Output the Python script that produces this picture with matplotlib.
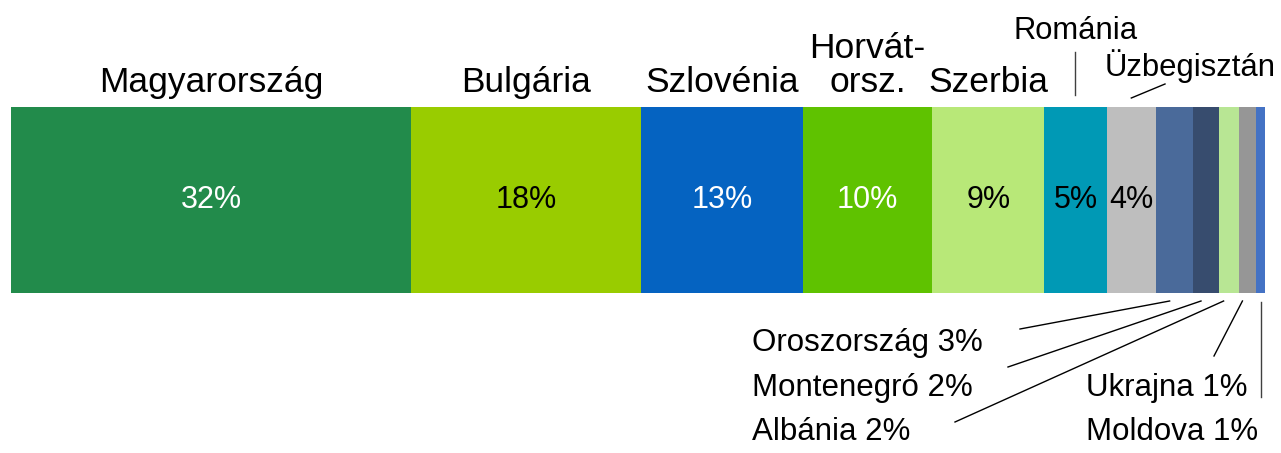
import matplotlib
matplotlib.use('Agg')
from matplotlib import pyplot as plt
import numpy as np

countries = ['Magyarország', 'Bulgária', 'Szlovénia', 'Horvátország', 'Szerbia', 'Románia',
             'Üzbegisztán', 'Oroszország', 'Montenegró', 'Albánia', 'Ukrajna', 'Moldova']
shares = [31.9, 18.3, 12.9, 10.3, 8.9, 5.0, 3.9, 3.0, 2.0, 1.6, 1.4, 0.7]
pct_labels = ['32%', '18%', '13%', '10%', '9%', '5%', '4%', '3%', '2%', '2%', '1%', '1%']
top_names = ['Magyarország', 'Bulgária', 'Szlovénia', 'Horvát-\norsz.', 'Szerbia', 'Románia', 'Üzbegisztán']
colors = ['#228B4B', '#99CC00', '#0563C1', '#5FC200', '#B8E878', '#0099B5',
          '#BEBEBE', '#4A6A9A', '#374C6E', '#B8E694', '#969696', '#4472C4']
inside_color = ['white', 'black', 'white', 'white', 'black', 'black', 'black']

plt.rcParams['font.family'] = ['Liberation Sans', 'DejaVu Sans']

W, H = 1281, 453
fig = plt.figure(figsize=(W / 100, H / 100), dpi=100)
ax = fig.add_axes([11 / W, 0, 1254 / W, 1])
total = sum(shares)
ax.set_xlim(0, total)
ax.set_ylim(H, 0)
ax.axis('off')

def px(x):
    # pixel column -> data x
    return (x - 11) / 1254 * total

starts = np.concatenate([[0], np.cumsum(shares)[:-1]])
centers = starts + np.array(shares) / 2
ax.barh(200, shares, left=starts, height=186, color=colors, edgecolor='none')

# percentages inside the bar
for i in range(7):
    ax.text(centers[i], 200, pct_labels[i], ha='center', va='center',
            fontsize=22, color=inside_color[i])

# names above the bar
name_size = 25.5
for i in range(5):
    ax.text(centers[i], 92, top_names[i], ha='center', va='baseline',
            fontsize=name_size, linespacing=1.05)
ax.text(centers[5], 39, top_names[5], ha='center', va='baseline', fontsize=22.3)
ax.text(px(1190), 76, top_names[6], ha='center', va='baseline', fontsize=22.3)
ax.plot([centers[5], centers[5]], [52, 95], color='#404040', lw=1)
ax.plot([centers[6], px(1165)], [98, 84], color='black', lw=1)

# small countries below the bar
below = [
    (7, 1020, 329, 752, 351),
    (8, 1008, 367, 752, 396),
    (9, 955, 422, 752, 440),
    (10, 1214, 356, 1086, 396),
]
for i, ex, ey, tx, ty in below:
    ax.plot([centers[i] - px(11 + 5), px(ex)], [301, ey], color='black', lw=1)
    ax.text(px(tx), ty, countries[i] + ' ' + pct_labels[i], ha='left', va='baseline',
            fontsize=22.5)
ax.plot([centers[11], centers[11]], [302, 397], color='#404040', lw=1)
ax.text(px(1086), 440, countries[11] + ' ' + pct_labels[11], ha='left', va='baseline',
        fontsize=22.5)

fig.savefig('out.png', dpi=100)
